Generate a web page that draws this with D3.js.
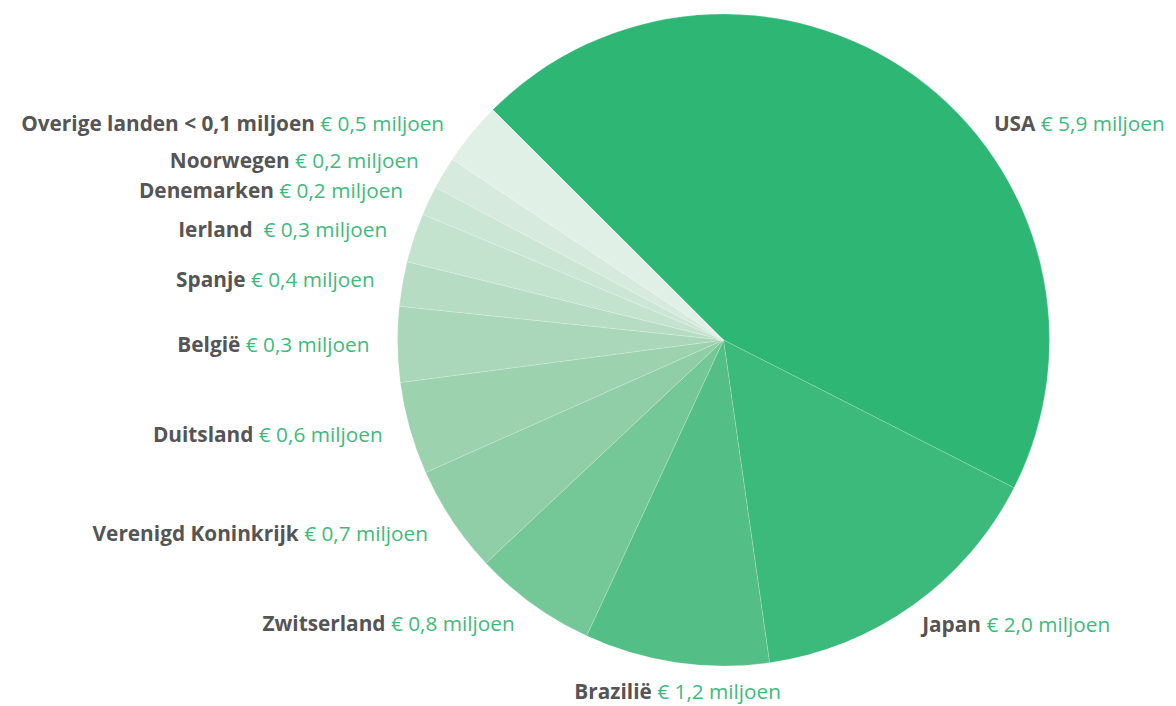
<!DOCTYPE html>
<html>
<head>
<meta charset="utf-8">
<script src="https://cdn.jsdelivr.net/npm/d3@7"></script>
<style>
  body { margin: 0; background: #fff; }
  text { font-family: "Open Sans", "Noto Sans", sans-serif; }
</style>
</head>
<body>
<div id="pie"></div>
<script>
// countries, clockwise from the top-left
let countries = ['USA', 'Japan', 'Brazilië', 'Zwitserland', 'Verenigd Koninkrijk', 'Duitsland',
    'België', 'Spanje', 'Ierland ', 'Denemarken', 'Noorwegen', 'Overige landen < 0,1 miljoen'];
// slice sizes as drawn (millions)
let sliceValues = [5.9, 2.0, 1.2, 0.8, 0.7, 0.6, 0.49, 0.29, 0.32, 0.19, 0.21, 0.41];
// amounts as printed in the labels
let labelAmounts = ['5,9', '2,0', '1,2', '0,8', '0,7', '0,6', '0,3', '0,4', '0,3', '0,2', '0,2', '0,5'];
let sliceColors = ['#2db674', '#3cba7b', '#53bf87', '#74c797', '#8fcea6', '#9dd2af',
    '#aad7ba', '#b6ddc4', '#c3e3ce', '#cce6d5', '#d6ebdd', '#e1f0e6'];

let totalWidth = 1176;
let totalHeight = 706;
let cx = 723.5, cy = 340;
let radius = 326;
let labelRadius = 350;
let labelTop = 124;

let data = countries.map(function(c, i) {
    return {name: c, value: sliceValues[i], amount: labelAmounts[i], color: sliceColors[i]};
});

let svg = d3.select("#pie").append("svg")
    .attr("width", totalWidth)
    .attr("height", totalHeight);

let g = svg.append("g")
    .attr("transform", "translate(" + cx + "," + cy + ")");

let startAngle = -45.06 * Math.PI / 180;
let pie = d3.pie()
    .value(function(d) { return d.value; })
    .sort(null)
    .startAngle(startAngle)
    .endAngle(startAngle + 2 * Math.PI);

let arc = d3.arc().innerRadius(0).outerRadius(radius);

let arcs = pie(data);

g.selectAll("path")
    .data(arcs)
    .enter().append("path")
    .attr("d", arc)
    .attr("fill", function(d) { return d.data.color; })
    .attr("stroke", "#ffffff")
    .attr("stroke-opacity", 0.3)
    .attr("stroke-width", 0.6);

// labels around the pie, no connectors
g.selectAll("text.label")
    .data(arcs)
    .enter().append("text")
    .attr("class", "label")
    .style("font-size", "20.8px")
    .style("white-space", "pre")
    .attr("xml:space", "preserve")
    .each(function(d) {
        let mid = (d.startAngle + d.endAngle) / 2;
        let s = Math.sin(mid), c = Math.cos(mid);
        let x = s * labelRadius;
        let y = -c * labelRadius;
        // keep labels below the top limit, slide along the label circle
        if (y + cy < labelTop) {
            y = labelTop - cy;
            x = Math.sign(s) * Math.sqrt(labelRadius * labelRadius - y * y);
        }
        let anchor = "start";
        let dx = -5;
        if (Math.abs(s) < 0.2) { anchor = "middle"; dx = 5; y += 5; }
        else if (s < 0) { anchor = "end"; dx = -4; }
        let t = d3.select(this)
            .attr("x", x + dx)
            .attr("y", y)
            .attr("dy", "0.35em")
            .attr("text-anchor", anchor);
        t.append("tspan")
            .style("font-weight", "bold")
            .style("fill", "#555555")
            .text(d.data.name);
        t.append("tspan")
            .style("fill", "#3fba7c")
            .text(" € " + d.data.amount + " miljoen");
    });
</script>
</body>
</html>
